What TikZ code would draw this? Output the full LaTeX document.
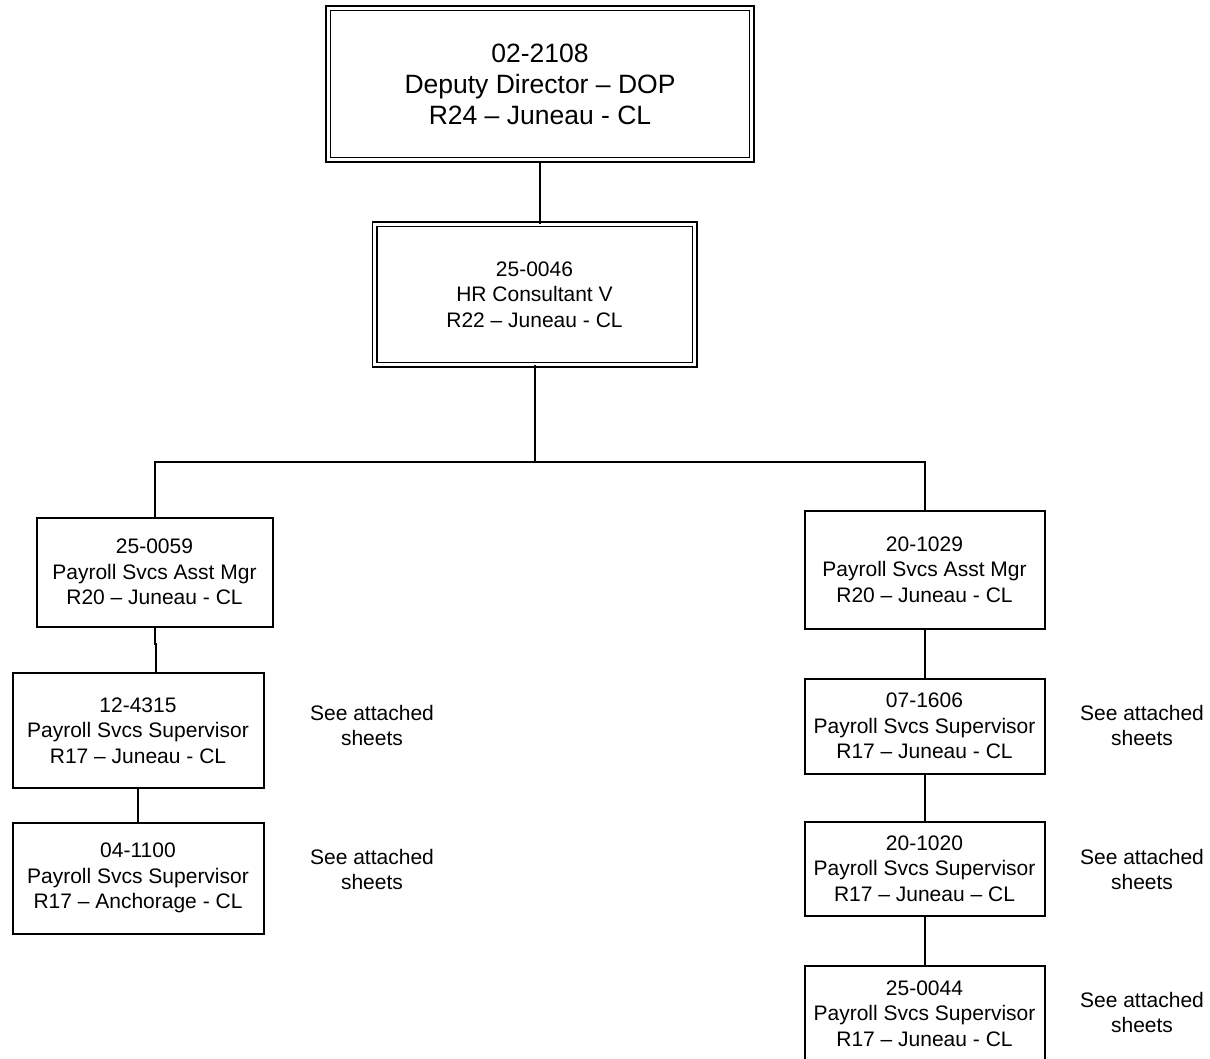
\documentclass[tikz,border=0pt]{standalone}
\usepackage{fontspec}
\setmainfont{Liberation Sans}

\begin{document}
\begin{tikzpicture}[x=1pt,y=-1pt,line width=2pt]
    \tikzstyle{post}=[draw=black,align=center,inner sep=0pt,font=\fontsize{21}{25.5}\selectfont]
    \tikzstyle{chief}=[post,double,double distance=3pt,line width=1.5pt]
    \tikzstyle{note}=[align=center,inner sep=0pt,font=\fontsize{21}{25}\selectfont]
    \useasboundingbox (0,0) rectangle (1210,1059);
    \clip (0,0) rectangle (1210,1059);

    \node[chief,minimum width=423.5pt,minimum height=151.75pt,font=\fontsize{26.5}{31}\selectfont] (dir) at (540,84) {02-2108\\Deputy Director – DOP\\R24 – Juneau - CL};
    \node[chief,minimum width=320pt,minimum height=140pt] (hr) at (534.5,294.5) {25-0046\\HR Consultant V\\R22 – Juneau - CL};

    \node[post,minimum width=236pt,minimum height=109pt] (mgrL) at (154.5,572) {25-0059\\Payroll Svcs Asst Mgr\\R20 – Juneau - CL};
    \node[post,minimum width=251pt,minimum height=115pt] (supL-1) at (138,730.5) {12-4315\\Payroll Svcs Supervisor\\R17 – Juneau - CL};
    \node[post,minimum width=251pt,minimum height=111pt] (supL-2) at (138,878) {04-1100\\Payroll Svcs Supervisor\\R17 – Anchorage - CL};

    \node[post,minimum width=240pt,minimum height=118pt] (mgrR) at (924.5,569.5) {20-1029\\Payroll Svcs Asst Mgr\\R20 – Juneau - CL};
    \node[post,minimum width=240pt,minimum height=95pt] (supR-1) at (924.5,726) {07-1606\\Payroll Svcs Supervisor\\R17 – Juneau - CL};
    \node[post,minimum width=240pt,minimum height=94pt] (supR-2) at (924.5,868.5) {20-1020\\Payroll Svcs Supervisor\\R17 – Juneau – CL};
    \node[post,minimum width=240pt,minimum height=95pt] (supR-3) at (924.5,1013.5) {25-0044\\Payroll Svcs Supervisor\\R17 – Juneau - CL};

    \foreach \name/\x/\y in {L-1/372/725.5, L-2/372/869.5, R-1/1142/725, R-2/1142/869, R-3/1142/1012.5}
        \node[note] (note\name) at (\x,\y) {See attached\\sheets};

    % reporting lines
    \coordinate (bus) at (534.5,462);
    \coordinate (jog) at (156,644);
    \draw (dir.south) -- (dir.south |- hr.north);
    \draw (hr.south) -- (hr.south |- bus);
    \draw (mgrL.north) |- (mgrR.north |- bus) -- (mgrR.north);
    \draw (mgrL.south) -- (mgrL.south |- jog) -- (jog) -- (jog |- supL-1.north);
    \draw (supL-1) -- (supL-2);

    \foreach \from/\to in {mgrR/supR-1, supR-1/supR-2, supR-2/supR-3}
        \draw (\from) -- (\to);
\end{tikzpicture}
\end{document}
